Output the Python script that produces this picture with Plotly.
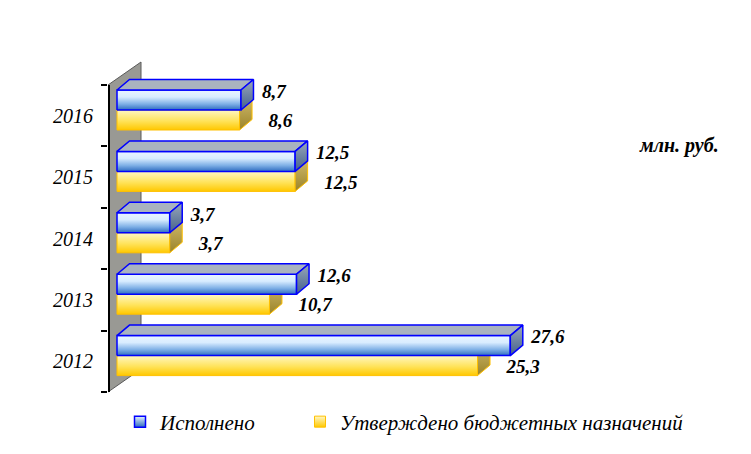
import plotly.graph_objects as go

# data (млн. руб.)
years = ['2012', '2013', '2014', '2015', '2016']
ispolneno = [27.6, 12.6, 3.7, 12.5, 8.7]
utverzhdeno = [25.3, 10.7, 3.7, 12.5, 8.6]

# page body has an 8px margin, so the figure is a bit smaller than the window
W, H = 743, 446
ML, MR, MT, MB = 100, 11, 42, 54
PW, PH = W - ML - MR, H - MT - MB
AXIS_PX = 108       # window px of the category axis line
PX_VAL = 14.25      # px per 1 млн. руб.
X0 = 117            # window px where value 0 sits
BAND = 61.4         # px per category band
Y0 = 392            # window px of the bottom of the first band
PLOT_TOP, PLOT_BOT = 50, 400

xmin = (AXIS_PX - X0) / PX_VAL
xmax = xmin + PW / PX_VAL
ymin = (Y0 - PLOT_BOT) / BAND
ymax = (Y0 - PLOT_TOP) / BAND

# 3d look: bar depth and thickness
dx = 12.5 / PX_VAL
dy = 10.5 / BAND
bar_h = 20 / BAND
gap_top = 5 / BAND

bold_font = 'Liberation Serif'
ital_font = 'serif'   # Liberation Serif italic falls back to sans here
blue_front = [[0, '#2f6cc0'], [0.3, '#7fb0e6'], [0.65, '#d8ecff'], [1, '#eaf5ff']]
blue_side = [[0, '#44608c'], [1, '#9aa8ba']]
yel_front = [[0, '#ffc800'], [0.45, '#ffe35a'], [1, '#fff7c4']]
yel_side = [[0, '#9c8428'], [1, '#cbb66a']]

fig = go.Figure()

# side wall with the category axis
wx0, wx1 = xmin, (141 - X0) / PX_VAL
wdy = 23 / BAND
fig.add_trace(go.Scatter(x=[wx0, wx0, wx1, wx1, wx0], y=[0, 5, 5 + wdy, wdy, 0],
                         fill='toself', fillcolor='#999994', mode='lines',
                         line=dict(color='#5a5a5a', width=1), showlegend=False, hoverinfo='skip'))
fig.add_trace(go.Scatter(x=[wx0, wx0], y=[0, 5], mode='lines',
                         line=dict(color='black', width=4), showlegend=False, hoverinfo='skip'))


def poly(xs, ys, grad=None, color=None, edge='#0000ff', lw=1.2):
    kw = dict(x=xs + [xs[0]], y=ys + [ys[0]], fill='toself', mode='lines',
              line=dict(color=edge, width=lw), showlegend=False, hoverinfo='skip')
    if grad:
        kw['fillgradient'] = dict(type='vertical', colorscale=grad)
    else:
        kw['fillcolor'] = color
    fig.add_trace(go.Scatter(**kw))


for i in range(len(years)):
    b, y = ispolneno[i], utverzhdeno[i]
    bt = i + 1 - gap_top
    bb = bt - bar_h
    yt = bb
    yb = yt - bar_h
    # yellow bar (lower one)
    poly([0, y, y + dx, dx], [yt, yt, yt + dy, yt + dy], color='#d9c46e', edge='#ffc000', lw=1)
    poly([0, y, y, 0], [yb, yb, yt, yt], grad=yel_front, edge='#ffc000', lw=1)
    poly([y, y + dx, y + dx, y], [yb, yb + dy, yt + dy, yt], grad=yel_side, edge='#ffc000', lw=1)
    # blue bar (upper one)
    poly([0, b, b, 0], [bb, bb, bt, bt], grad=blue_front, lw=1.5)
    poly([0, b, b + dx, dx], [bt, bt, bt + dy, bt + dy], color='#a9b3bf', lw=1.5)
    poly([b, b + dx, b + dx, b], [bb, bb + dy, bt + dy, bt], grad=blue_side, lw=1.5)

lbl = lambda v: f'{v:.1f}'.replace('.', ',')
cats = list(range(len(years)))
vfont = dict(family=bold_font, size=19, weight='bold', style='italic', color='black')
fig.add_trace(go.Scatter(
    x=[v + 21 / PX_VAL for v in ispolneno], y=[c + 1 - gap_top - 0.05 for c in cats],
    mode='text', text=[lbl(v) for v in ispolneno], textposition='middle right',
    textfont=vfont, cliponaxis=False, showlegend=False, hoverinfo='skip'))
fig.add_trace(go.Scatter(
    x=[v + 29 / PX_VAL for v in utverzhdeno], y=[c + 1 - gap_top - 1.5 * bar_h - 0.04 for c in cats],
    mode='text', text=[lbl(v) for v in utverzhdeno], textposition='middle right',
    textfont=vfont, cliponaxis=False, showlegend=False, hoverinfo='skip'))

# legend entries
fig.add_trace(go.Scatter(x=[None], y=[None], mode='markers', name='Исполнено', legend='legend',
                         marker=dict(symbol='square', size=11, color='#e6f3ff',
                                     gradient=dict(type='vertical', color='#2f6cc0'),
                                     line=dict(color='#0000ff', width=1.5))))
fig.add_trace(go.Scatter(x=[None], y=[None], mode='markers', name='Утверждено бюджетных назначений',
                         legend='legend2',
                         marker=dict(symbol='square', size=11, color='#fff7c4',
                                     gradient=dict(type='vertical', color='#ffc800'),
                                     line=dict(color='#ffc000', width=1))))

fig.add_annotation(text='млн. руб.', xref='paper', yref='paper', xanchor='center', yanchor='middle',
                   x=(679 - AXIS_PX) / PW, y=(PLOT_BOT - 145) / PH, showarrow=False,
                   font=dict(family=bold_font, size=20, weight='bold', style='italic', color='black'))

lfont = dict(family=ital_font, size=21, style='italic', color='black')
leg_y = -(422 - PLOT_BOT) / PH
fig.update_layout(
    width=W, height=H, margin=dict(l=ML, r=MR, t=MT, b=MB, autoexpand=False),
    paper_bgcolor='white', plot_bgcolor='white',
    xaxis=dict(range=[xmin, xmax], visible=False),
    yaxis=dict(range=[ymin, ymax], tickmode='array', tickvals=[c + 0.5 for c in cats],
               ticktext=years, ticks='', showgrid=False, zeroline=False, showline=False,
               ticklabelstandoff=14, automargin=False,
               tickfont=dict(family=ital_font, size=20, style='italic', color='black'),
               minor=dict(tickmode='array', tickvals=list(range(len(years) + 1)),
                          ticks='outside', ticklen=6, tickwidth=1.5, tickcolor='black',
                          showgrid=False)),
    legend=dict(orientation='h', x=(120 - AXIS_PX) / PW, xanchor='left', y=leg_y, yanchor='middle',
                font=lfont, bgcolor='rgba(0,0,0,0)'),
    legend2=dict(orientation='h', x=(300 - AXIS_PX) / PW, xanchor='left', y=leg_y, yanchor='middle',
                 font=lfont, bgcolor='rgba(0,0,0,0)'),
    showlegend=True,
)

fig.write_html('out.html')
